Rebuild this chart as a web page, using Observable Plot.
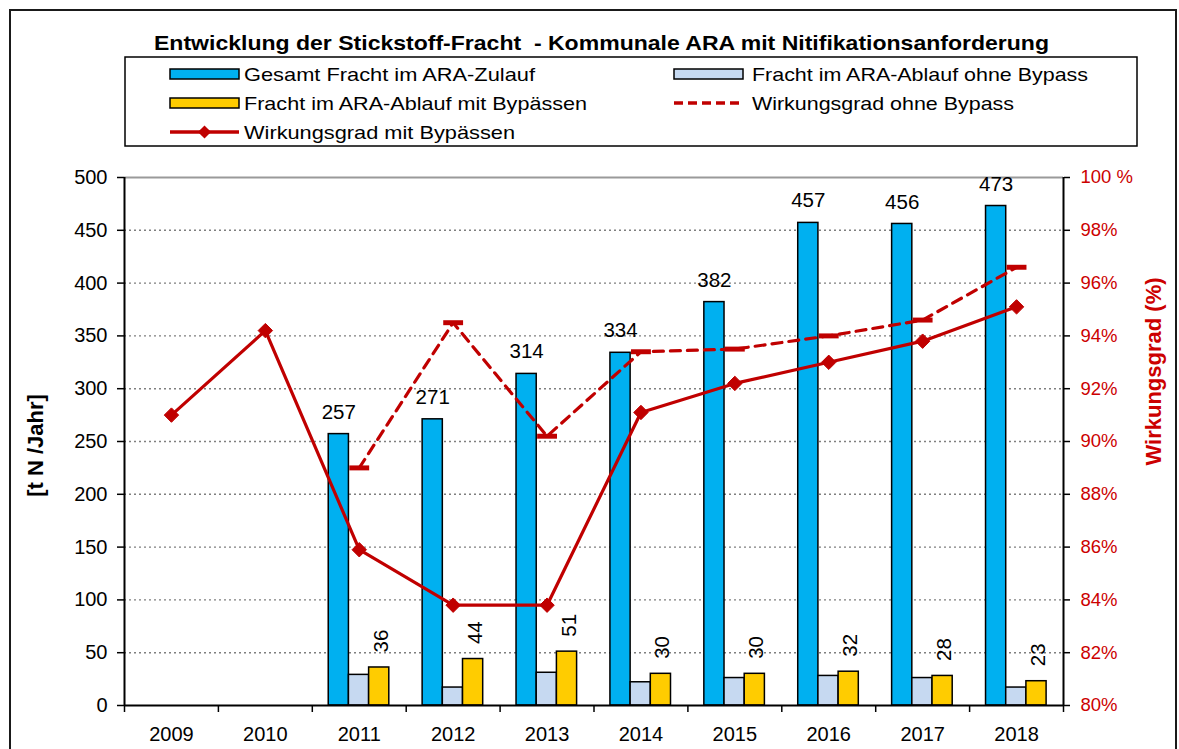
<!DOCTYPE html>
<html><head><meta charset="utf-8">
<script src="https://cdn.jsdelivr.net/npm/d3@7"></script>
<script src="https://cdn.jsdelivr.net/npm/@observablehq/plot@0.6"></script>
<style>
html,body{margin:0;padding:0;background:#fff;overflow:hidden;width:1179px;height:749px;}
#wrap{position:relative;width:1179px;height:749px;overflow:hidden;}
#frame{position:absolute;left:9px;top:9px;width:1168px;height:800px;border:2px solid #1a1a1a;box-sizing:border-box;}
#head{position:absolute;left:0;top:0;}
#chart{position:absolute;left:0;top:150px;}
</style></head><body>
<div id="wrap"><div id="frame"></div><div id="head"></div><div id="chart"></div></div>
<script>
// ---- data ----
const years = [2009, 2010, 2011, 2012, 2013, 2014, 2015, 2016, 2017, 2018];
const zulauf = [null, null, 257, 271, 314, 334, 382, 457, 456, 473];           // Gesamt Fracht im ARA-Zulauf
const ablaufOhne = [null, null, 29, 17, 31, 22, 26, 28, 26, 17];               // Fracht im ARA-Ablauf ohne Bypass
const ablaufMit = [null, null, 36, 44, 51, 30, 30, 32, 28, 23];                // Fracht im ARA-Ablauf mit Bypässen
const wgOhne = [null, null, 89.0, 94.5, 90.2, 93.4, 93.5, 94.0, 94.6, 96.6];   // Wirkungsgrad ohne Bypass (%)
const wgMit = [91.0, 94.2, 85.9, 83.8, 83.8, 91.1, 92.2, 93.0, 93.8, 95.1];    // Wirkungsgrad mit Bypässen (%)
const leftTicks = [0, 50, 100, 150, 200, 250, 300, 350, 400, 450, 500];
const rightTicks = [80, 82, 84, 86, 88, 90, 92, 94, 96, 98, 100];

const titleText = "Entwicklung der Stickstoff-Fracht  - Kommunale ARA mit Nitifikationsanforderung";
const legendLabels = ["Gesamt Fracht im ARA-Zulauf", "Fracht im ARA-Ablauf ohne Bypass",
  "Fracht im ARA-Ablauf mit Bypässen", "Wirkungsgrad ohne Bypass", "Wirkungsgrad mit Bypässen"];

// ---- styles ----
const BLUE = "#00B0F0", LIGHT = "#C6D9F1", YELLOW = "#FFCC00", RED = "#C00000", RED_TXT = "#CC0000";
const FONT = "'Liberation Sans', Arial, sans-serif";

// ---- header (title + legend) ----
const head = d3.select("#head").append("svg").attr("width", 1179).attr("height", 150)
  .style("font-family", FONT).style("display", "block");
head.append("text").attr("x", 154).attr("y", 50)
  .attr("font-family", "'Liberation Sans Narrow', 'Liberation Sans', Arial, sans-serif")
  .attr("font-weight", "bold").attr("font-size", 21).style("white-space", "pre")
  .attr("textLength", 895).attr("lengthAdjust", "spacingAndGlyphs").text(titleText);
head.append("rect").attr("x", 125).attr("y", 57).attr("width", 1012).attr("height", 89)
  .attr("fill", "#fff").attr("stroke", "#000").attr("stroke-width", 1.5);

const legendItems = [
  {label: legendLabels[0], kind: "bar", color: BLUE, sx: 170, tx: 244, cy: 74, tl: 291},
  {label: legendLabels[1], kind: "bar", color: LIGHT, sx: 674, tx: 752, cy: 74, tl: 336},
  {label: legendLabels[2], kind: "bar", color: YELLOW, sx: 170, tx: 244, cy: 103, tl: 343},
  {label: legendLabels[3], kind: "dash", color: RED, sx: 674, tx: 752, cy: 103, tl: 262},
  {label: legendLabels[4], kind: "line", color: RED, sx: 170, tx: 244, cy: 132, tl: 271}
];
for (const it of legendItems) {
  if (it.kind === "bar") {
    head.append("rect").attr("x", it.sx).attr("y", it.cy - 5).attr("width", 69).attr("height", 10)
      .attr("fill", it.color).attr("stroke", "#000").attr("stroke-width", 1.5);
  } else if (it.kind === "dash") {
    head.append("line").attr("x1", it.sx).attr("x2", it.sx + 69).attr("y1", it.cy).attr("y2", it.cy)
      .attr("stroke", it.color).attr("stroke-width", 3.5).attr("stroke-dasharray", "9,5");
  } else {
    head.append("line").attr("x1", it.sx).attr("x2", it.sx + 69).attr("y1", it.cy).attr("y2", it.cy)
      .attr("stroke", it.color).attr("stroke-width", 3.5);
    head.append("path").attr("d", d3.symbol(d3.symbolDiamond2, 110)())
      .attr("transform", `translate(${it.sx + 34.5},${it.cy})`).attr("fill", it.color);
  }
  head.append("text").attr("x", it.tx).attr("y", it.cy + 7).attr("font-size", 19)
    .attr("textLength", it.tl).attr("lengthAdjust", "spacingAndGlyphs").text(it.label);
}

// ---- chart ----
const rows = years.map((year, i) => ({year, zulauf: zulauf[i], ohne: ablaufOhne[i], mit: ablaufMit[i], wgO: wgOhne[i], wgM: wgMit[i]}));
const barRows = rows.filter(d => d.zulauf != null);
const wgORows = rows.filter(d => d.wgO != null);
const pctToY = p => (p - 80) * 25;   // right axis 80–100 % mapped onto left 0–500
const boundaries = d3.range(years[0] - 0.5, years[years.length - 1] + 1, 1);
const dashSymbol = {draw(ctx, size) { const s = Math.sqrt(size); ctx.rect(-s, -s / 4, 2 * s, s / 2); }};

const chart = Plot.plot({
  width: 1179, height: 599,
  marginTop: 27, marginBottom: 44, marginLeft: 124, marginRight: 116,
  style: {fontFamily: FONT, fontSize: "20px", color: "#000", background: "transparent", overflow: "visible"},
  x: {type: "linear", domain: [boundaries[0], boundaries[boundaries.length - 1]]},
  y: {domain: [0, 500]},
  marks: [
    Plot.ruleY(leftTicks.filter(d => d > 0 && d < 500), {stroke: "#7f7f7f", strokeDasharray: "2,3", strokeWidth: 1.4}),
    Plot.ruleY([500], {stroke: "#9a9a9a", strokeWidth: 2}),
    Plot.rectY(barRows, {x1: d => d.year - 0.325, x2: d => d.year - 0.11, y1: 0, y2: "zulauf", fill: BLUE, stroke: "#000", strokeWidth: 1.5}),
    Plot.rectY(barRows, {x1: d => d.year - 0.11, x2: d => d.year + 0.105, y1: 0, y2: "ohne", fill: LIGHT, stroke: "#000", strokeWidth: 1.5}),
    Plot.rectY(barRows, {x1: d => d.year + 0.105, x2: d => d.year + 0.32, y1: 0, y2: "mit", fill: YELLOW, stroke: "#000", strokeWidth: 1.5}),
    Plot.text(barRows, {x: d => d.year - 0.2175, y: "zulauf", text: d => String(d.zulauf), dy: -22, fontSize: 20.5}),
    Plot.text(barRows, {x: d => d.year + 0.2125, y: "mit", text: d => String(d.mit), rotate: -90, textAnchor: "start", dy: -15, dx: 2, fontSize: 20.5}),
    Plot.line(wgORows, {x: "year", y: d => pctToY(d.wgO), stroke: RED, strokeWidth: 3.2, strokeDasharray: "10,7"}),
    Plot.dot(wgORows, {x: "year", y: d => pctToY(d.wgO), symbol: dashSymbol, r: 5.6, fill: RED}),
    Plot.line(rows, {x: "year", y: d => pctToY(d.wgM), stroke: RED, strokeWidth: 3.2}),
    Plot.dot(rows, {x: "year", y: d => pctToY(d.wgM), symbol: "diamond2", r: 6.5, fill: RED, stroke: RED, strokeWidth: 1}),
    Plot.ruleX([boundaries[0], boundaries[boundaries.length - 1]], {stroke: "#000", strokeWidth: 2}),
    Plot.ruleY([0], {stroke: "#000", strokeWidth: 2}),
    Plot.axisY({anchor: "left", ticks: leftTicks, tickSize: 7, tickPadding: 10, label: null, fontSize: 20, strokeWidth: 1.5}),
    Plot.axisY({anchor: "right", ticks: rightTicks.map(pctToY), tickSize: 6, tickPadding: 11, label: null, fontSize: 18.5, fill: RED_TXT, strokeWidth: 1.5,
      tickFormat: d => { const p = Math.round(d / 25 + 80); return p === 100 ? "100 %" : p + "%"; }}),
    Plot.axisX({ticks: boundaries, tickSize: 7, tickFormat: () => "", label: null, strokeWidth: 1.5}),
    Plot.axisX({ticks: years, tickSize: 0, tickPadding: 21, tickFormat: d => String(d), label: null, fontSize: 20}),
    Plot.text(["[t N /Jahr]"], {text: d => d, frameAnchor: "left", textAnchor: "middle", rotate: -90, dx: -89, dy: 4, fontWeight: "bold", fontSize: 22}),
    Plot.text(["Wirkungsgrad (%)"], {text: d => d, frameAnchor: "right", textAnchor: "middle", rotate: -90, dx: 90, dy: -70, fontWeight: "bold", fontSize: 22, fill: RED_TXT})
  ]
});
document.getElementById("chart").appendChild(chart);
</script>
</body></html>
